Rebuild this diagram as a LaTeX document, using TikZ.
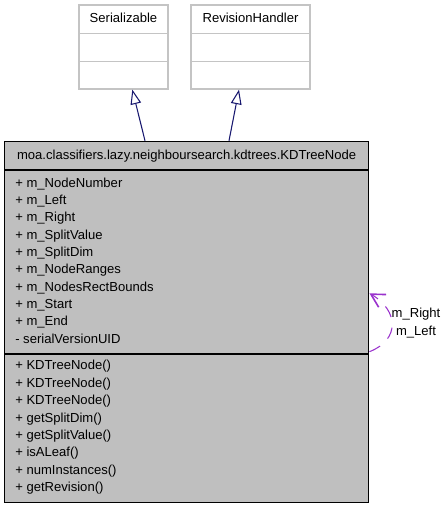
\documentclass[tikz,border=0pt]{standalone}
\usepackage{fontspec}
\setmainfont{Liberation Sans}
\usetikzlibrary{arrows.meta,fit,calc}
\definecolor{extgray}{HTML}{C4C4C4}
\definecolor{clsgray}{HTML}{BFBFBF}
\definecolor{inhblue}{HTML}{191970}
\definecolor{usepurple}{HTML}{9A32CD}
\begin{document}
\begin{tikzpicture}[x=0.75pt,y=-0.75pt,
  font=\fontsize{9.8}{11}\selectfont,
  ext/.style={draw=extgray,line width=0.9pt,inner sep=0pt},
  cls/.style={draw=black,fill=clsgray,line width=1.1pt,inner sep=0pt},
  member/.style={anchor=base west,inner sep=0pt},
  inherit/.style={draw=inhblue,line width=0.8pt,-{Triangle[open,length=11pt,width=8pt,fill=white]}},
  assoc/.style={draw=usepurple,line width=0.8pt,dash pattern=on 9pt off 8pt,
    -{Straight Barb[length=10pt,width=11pt,line width=1.2pt]}}]
\useasboundingbox (0,0) rectangle (447,509);
% 接口
\node[ext,fit={(79,5) (168,89)}] (ser) {};
\draw[extgray,line width=0.9pt] (79,33.7) -- (168,33.7) (79,61.7) -- (168,61.7);
\node[anchor=base,inner sep=0pt] (sername) at (123.5,22.9) {Serializable};
\node[ext,fit={(191,5) (310,89)}] (rev) {};
\draw[extgray,line width=0.9pt] (191,33.7) -- (310,33.7) (191,61.7) -- (310,61.7);
\node[anchor=base,inner sep=0pt] (revname) at (250.5,22.9) {RevisionHandler};
% 类
\node[cls,fit={(4.5,141.5) (368.7,502.7)}] (main) {};
\draw[line width=1.1pt] (4.5,170) -- (368.7,170) (4.5,354) -- (368.7,354);
\node[anchor=base,inner sep=0pt] (mainname) at (186.6,159.6)
  {moa.classifiers.lazy.neighboursearch.kdtrees.KDTreeNode};
% 属性
\foreach \t [count=\i from 0] in {+ m\_NodeNumber,+ m\_Left,+ m\_Right,
  + m\_SplitValue,+ m\_SplitDim,+ m\_NodeRanges,+ m\_NodesRectBounds,
  + m\_Start,+ m\_End,- serialVersionUID}
  \node[member] (attr\i) at (15,{187.3+17.3*\i}) {\t};
% 方法
\foreach \t [count=\i from 0] in {+ KDTreeNode(),+ KDTreeNode(),+ KDTreeNode(),
  + getSplitDim(),+ getSplitValue(),+ isALeaf(),+ numInstances(),+ getRevision()}
  \node[member] (meth\i) at (15,{369.8+17.4*\i}) {\t};
% 继承
\draw[inherit] ($(main.north)+(-41.6,0)$) -- ($(ser.south)+(8.8,0)$);
\draw[inherit] ($(main.north)+(42.4,0)$) -- ($(rev.south)+(-11.5,0)$);
% 自关联
\draw[assoc] ($(main.east)+(0,29.6)$) .. controls +(31,-12) and +(29,17) .. ($(main.east)+(0,-28.8)$);
\node[anchor=base,inner sep=0pt] (lblright) at (416,317.6) {m\_Right};
\node[anchor=base,inner sep=0pt] (lblleft) at (416,335.6) {m\_Left};
\end{tikzpicture}
\end{document}
